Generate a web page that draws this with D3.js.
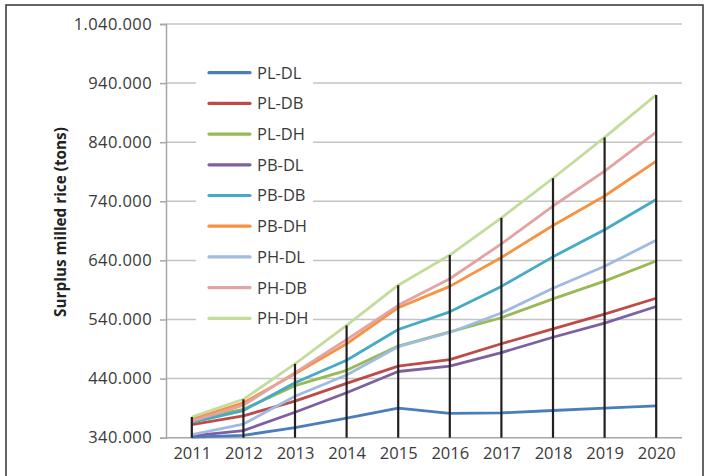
<!DOCTYPE html>
<html><head><meta charset="utf-8">
<script src="https://cdn.jsdelivr.net/npm/d3@7"></script>
<style>html,body{margin:0;padding:0;background:#fff;}</style>
</head><body>
<svg id="c" width="710" height="476"></svg>
<script>
const years = ["2011","2012","2013","2014","2015","2016","2017","2018","2019","2020"];
const seriesNames = ["PL-DL","PL-DB","PL-DH","PB-DL","PB-DB","PB-DH","PH-DL","PH-DB","PH-DH"];
const plDL = [341000,344000,357000,373000,390000,381000,382000,386000,390000,394000];
const plDB = [362000,377000,402000,432000,461000,472000,499000,524000,549000,576000];
const plDH = [372000,388000,428000,454000,495000,519000,543000,575000,605000,639000];
const pbDL = [343000,352000,383000,416000,452000,461000,484000,510000,534000,562000];
const pbDB = [366000,386000,433000,471000,523000,553000,596000,646000,692000,743000];
const pbDH = [371000,399000,448000,499000,560000,596000,645000,699000,749000,808000];
const phDL = [345000,363000,410000,446000,494000,518000,551000,593000,630000,674000];
const phDB = [368000,395000,450000,506000,564000,609000,668000,732000,791000,857000];
const phDH = [375000,405000,465000,530000,598000,649000,712000,779000,848000,920000];
const yTicks = [340000,440000,540000,640000,740000,840000,940000,1040000];
const colors = ["#4a7ebb","#be4b48","#98b954","#7d60a0","#46aac5","#f69240","#9fbbe2","#e2a3a2","#c3dc9b"];
const allSeries = [plDL,plDB,plDH,pbDL,pbDB,pbDH,phDL,phDB,phDH];

const svg = d3.select("#c");
const font = "'Open Sans', 'Liberation Sans', sans-serif";
const loc = d3.formatLocale({decimal:",", thousands:".", grouping:[3], currency:["",""]});
const fmt = loc.format(",d");

// frame
svg.append("rect").attr("x",6).attr("y",5).attr("width",697).attr("height",480)
  .attr("fill","none").attr("stroke","#333").attr("stroke-width",1.5);

const x = d3.scalePoint().domain(years).range([166,682]).padding(0.5);
const y = d3.scaleLinear().domain([340000,1040000]).range([437.7,24]);

// gridlines
svg.append("g").selectAll("line").data(yTicks.slice(1)).join("line")
  .attr("x1",166).attr("x2",682).attr("y1",d=>y(d)).attr("y2",d=>y(d))
  .attr("stroke","#c4c4c4").attr("stroke-width",1.5);

// y axis
const ya = svg.append("g").attr("transform","translate(166,0)")
  .call(d3.axisLeft(y).tickValues(yTicks).tickFormat(fmt).tickSize(6).tickPadding(8));
ya.select(".domain").attr("stroke","#a6a6a6").attr("stroke-width",1.5);
ya.selectAll(".tick line").attr("stroke","#a6a6a6").attr("stroke-width",1.5);
ya.selectAll(".tick text").attr("font-family",font).attr("font-size",16.5).attr("fill","#3a3a3a").attr("letter-spacing","0.4");

// x axis
const xa = svg.append("g").attr("transform","translate(0,437.7)")
  .call(d3.axisBottom(x).tickSize(0).tickPadding(10));
xa.select(".domain").attr("stroke","#a6a6a6").attr("stroke-width",1.5).attr("d","M166,0H682");
xa.selectAll(".tick text").attr("font-family",font).attr("font-size",16.5).attr("fill","#3a3a3a").attr("dy","0.71em");

// y title
svg.append("text").attr("transform","translate(66,222) rotate(-90)")
  .attr("text-anchor","middle").attr("font-family",font).attr("font-weight","bold")
  .attr("font-size",15.3).attr("fill","#222").text("Surplus milled rice (tons)");

// legend background
const lg = svg.append("g");
lg.append("rect").attr("x",196).attr("y",58).attr("width",117).attr("height",274).attr("fill","#fff");

// lines
const line = d3.line().x((d,i)=>x(years[i])).y(d=>y(d));
svg.append("g").selectAll("path").data(allSeries).join("path")
  .attr("d",line).attr("fill","none").attr("stroke",(d,i)=>colors[i])
  .attr("stroke-width",2.8).attr("stroke-linejoin","round");

// drop lines (from highest point to axis)
const maxes = years.map((yr,i)=>d3.max(allSeries,s=>s[i]));
svg.append("g").selectAll("line").data(maxes).join("line")
  .attr("x1",(d,i)=>x(years[i])).attr("x2",(d,i)=>x(years[i]))
  .attr("y1",d=>y(d)).attr("y2",y(340000))
  .attr("stroke","#231f20").attr("stroke-width",2.2);

// legend entries
seriesNames.forEach((n,i)=>{
  const yy = 72.7 + i*30.7;
  lg.append("line").attr("x1",209).attr("x2",250).attr("y1",yy).attr("y2",yy)
    .attr("stroke",colors[i]).attr("stroke-width",3.2).attr("stroke-linecap","round");
  lg.append("text").attr("x",257).attr("y",yy).attr("dy","0.36em")
    .attr("font-family",font).attr("font-size",16.5).attr("fill","#3a3a3a").text(n);
});
</script>
</body></html>
